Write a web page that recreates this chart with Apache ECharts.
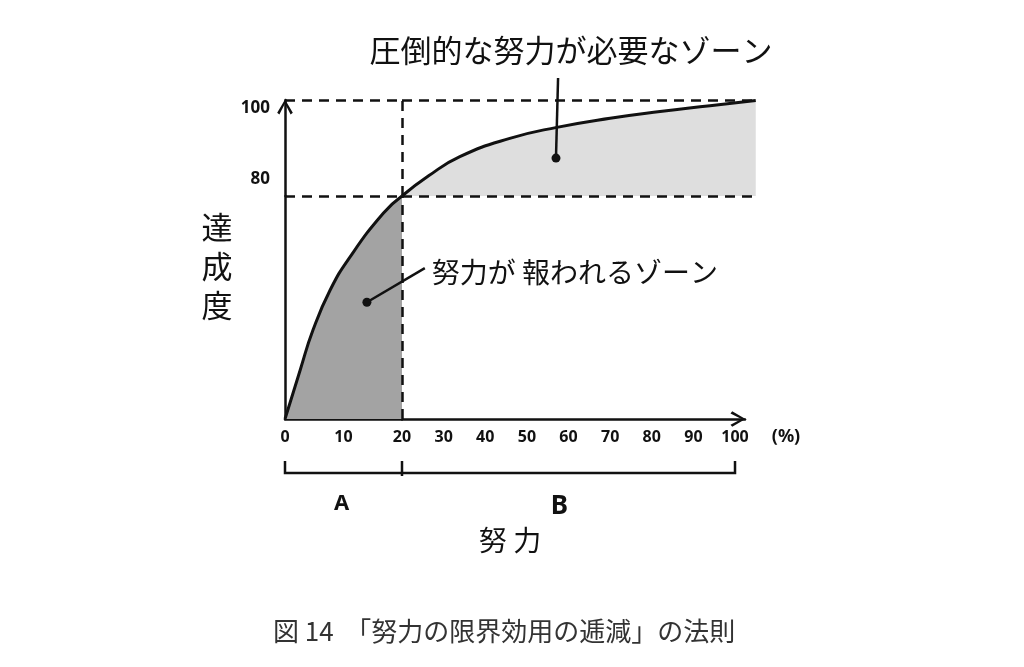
<!DOCTYPE html>
<html><head><meta charset="utf-8">
<script src="https://cdn.jsdelivr.net/npm/echarts@6/dist/echarts.min.js"></script>
<style>html,body{margin:0;padding:0;background:#fff}#c{width:1024px;height:667px}</style>
</head><body><div id="c"></div>
<script>
// ---- data ----
const effortA  = [0, 2.6, 4.8, 7.7, 11.1, 16.8, 20];
const achieveA = [0, 17.6, 32, 46.2, 58.1, 73.8, 80];
const effortB  = [20, 26.4, 33.9, 45.9, 57.2, 70, 82, 94, 105];
const achieveB = [80, 84.2, 88.2, 92, 94.3, 96.2, 97.6, 98.8, 99.9];
const xTicksA = [0, 10, 20];
const xTicksB = [30, 40, 50, 60, 70, 80, 90, 100];
const yTicks = [80, 100];
const thresholdEffort = 20;
const thresholdAchieve = 80;
const maxAchieve = 100;
const zoneLabels = ['A', 'B'];
const yTitle = '達\n成\n度';
const xTitle = '努 力';
const unitLabel = '(%)';
const zoneTopText = '圧倒的な努力が必要なゾーン';
const zoneMidText = '努力が 報われるゾーン';
const figTitle = '図 14  「努力の限界効用の逓減」の法則';

// ---- styles ----
const INK = '#111';
const FONT_CJK = '"Noto Sans CJK JP", "Noto Sans", sans-serif';
const FONT_NUM = '"Noto Sans", "DejaVu Sans", sans-serif';
const ARROW = 'path://M5,0 L10,8.5 L8.6,9.6 L5,2.6 L1.4,9.6 L0,8.5 Z';
const axisLineStyle = {color: INK, width: 2.5};
const dash = {type: [10, 7], color: INK, width: 2.5};
function mk(data) {
  return {silent: true, symbol: ['none', 'none'], label: {show: false},
          lineStyle: dash, emphasis: {disabled: true}, animation: false, data};
}
const numLabel = {color: INK, fontSize: 16, fontWeight: 'bold', fontFamily: FONT_NUM};

const chart = echarts.init(document.getElementById('c'), null, {renderer: 'canvas'});
const grids = [
  {left: 285, top: 196, width: 117, height: 223},
  {left: 285, top: 100, width: 117, height: 96},
  {left: 402, top: 100, width: 355, height: 96},
  {left: 402, top: 196, width: 343, height: 223}
].map(g => Object.assign(g, {containLabel: false, outerBoundsMode: 'none', show: false}));

chart.setOption({
  animation: false,
  backgroundColor: '#fff',
  title: {
    text: figTitle, left: 268, top: 613,
    textStyle: {fontSize: 26, fontWeight: 'normal', color: '#333', fontFamily: FONT_CJK}
  },
  grid: grids,
  xAxis: [
    {gridIndex: 0, type: 'value', min: 0, max: 20, interval: 10,
     axisLine: {show: true, onZero: false, lineStyle: axisLineStyle},
     axisTick: {show: false}, splitLine: {show: false},
     axisLabel: Object.assign({margin: 10, formatter: v => xTicksA.includes(v) ? String(v) : ''}, numLabel)},
    {gridIndex: 1, type: 'value', min: 0, max: 20, show: false},
    {gridIndex: 2, type: 'value', min: 20, max: 105.3, show: false},
    {gridIndex: 3, type: 'value', min: 20, max: 102.4, interval: 10,
     axisLine: {show: true, onZero: false, lineStyle: axisLineStyle,
                symbol: ['none', ARROW], symbolSize: [17, 15], symbolOffset: [0, -7]},
     axisTick: {show: false}, splitLine: {show: false},
     axisLabel: Object.assign({margin: 10, showMaxLabel: false,
       formatter: v => xTicksB.includes(v) ? String(v) : ''}, numLabel)}
  ],
  yAxis: [
    {gridIndex: 0, type: 'value', min: 0, max: 80,
     axisLine: {show: true, onZero: false, lineStyle: axisLineStyle},
     axisTick: {show: false}, splitLine: {show: false}, axisLabel: {show: false}},
    {gridIndex: 1, type: 'value', min: 80, max: 100, interval: 20,
     axisLine: {show: true, onZero: false, lineStyle: axisLineStyle,
                symbol: ['none', ARROW], symbolSize: [17, 15], symbolOffset: [0, -7]},
     axisTick: {show: false}, splitLine: {show: false},
     axisLabel: {margin: 15,
       formatter: v => v === yTicks[1] ? '{t| }\n{t|' + v + '}' : (v === yTicks[0] ? '{e|' + v + '}\n{e| }' : ''),
       rich: {
         t: Object.assign({}, numLabel, {fontSize: 17, lineHeight: 16}),
         e: Object.assign({}, numLabel, {fontSize: 17, lineHeight: 34})
       }}},
    {gridIndex: 2, type: 'value', min: 80, max: 100, show: false},
    {gridIndex: 3, type: 'value', min: 0, max: 80, show: false}
  ],
  series: [
    {type: 'line', xAxisIndex: 0, yAxisIndex: 0,
     data: effortA.map((x, i) => [x, achieveA[i]]),
     smooth: 0.5, showSymbol: false, silent: true,
     lineStyle: {color: INK, width: 3},
     areaStyle: {color: '#a3a3a3', opacity: 1, origin: 'start'},
     markLine: mk([{yAxis: thresholdAchieve}, {xAxis: thresholdEffort}])},
    {type: 'line', xAxisIndex: 2, yAxisIndex: 2,
     data: effortB.map((x, i) => [x, achieveB[i]]),
     smooth: 0.5, showSymbol: false, silent: true,
     lineStyle: {color: INK, width: 3},
     areaStyle: {color: '#dedede', opacity: 1, origin: 'start'},
     markLine: mk([{yAxis: maxAchieve}, {yAxis: thresholdAchieve}, {xAxis: thresholdEffort}])},
    {type: 'line', xAxisIndex: 1, yAxisIndex: 1, data: [], silent: true,
     markLine: mk([{yAxis: maxAchieve}])}
  ]
});

// ---- annotations anchored in data coordinates ----
const P = (gi, v) => chart.convertToPixel({gridIndex: gi}, v);
const dotB = P(2, [57, 87.9]), topB = P(2, [57.5, 104.6]);
const dotA = P(0, [14, 41.9]), endA = P(0, [23.9, 54.1]);
const x0 = P(0, [0, 0])[0], x20 = P(0, [20, 0])[0], x100 = P(3, [100, 0])[0];
const bracketY = 473, tickTop = 461;

function txt(text, x, y, size, opts) {
  return {type: 'text', x, y, z: 100, silent: true,
    style: Object.assign({text, fill: INK, fontSize: size, fontFamily: FONT_CJK,
      align: 'center', verticalAlign: 'middle'}, opts || {})};
}
const G = {z: 100, silent: true};
chart.setOption({
  graphic: [
    Object.assign({type: 'line', shape: {x1: topB[0], y1: topB[1], x2: dotB[0], y2: dotB[1]},
     style: {stroke: INK, lineWidth: 2.5}}, G),
    Object.assign({type: 'circle', shape: {cx: dotB[0], cy: dotB[1], r: 4.5}, style: {fill: INK}}, G),
    Object.assign({type: 'line', shape: {x1: endA[0], y1: endA[1], x2: dotA[0], y2: dotA[1]},
     style: {stroke: INK, lineWidth: 2.5}}, G),
    Object.assign({type: 'circle', shape: {cx: dotA[0], cy: dotA[1], r: 4.5}, style: {fill: INK}}, G),
    Object.assign({type: 'polyline',
     shape: {points: [[x0, tickTop], [x0, bracketY], [x100, bracketY], [x100, tickTop]]},
     style: {stroke: INK, lineWidth: 2.5, fill: null}}, G),
    Object.assign({type: 'line', shape: {x1: x20, y1: tickTop, x2: x20, y2: bracketY + 3},
     style: {stroke: INK, lineWidth: 2.5}}, G),
    txt(zoneTopText, topB[0] + 13, 50, 31),
    txt(zoneMidText, endA[0] + 7, endA[1] + 4, 28, {align: 'left'}),
    txt(yTitle, 217, 266, 31, {lineHeight: 39}),
    txt(xTitle, 510, 540, 28),
    txt(zoneLabels[0], (x0 + x20) / 2 - 2, 504, 22, {fontFamily: FONT_NUM, fontWeight: 'bold'}),
    txt(zoneLabels[1], (x20 + x100) / 2 - 9, 507, 26, {fontFamily: FONT_NUM, fontWeight: 'bold'}),
    txt(unitLabel, 786, 437, 18, {fontFamily: FONT_NUM, fontWeight: 'bold'})
  ]
});
</script></body></html>
